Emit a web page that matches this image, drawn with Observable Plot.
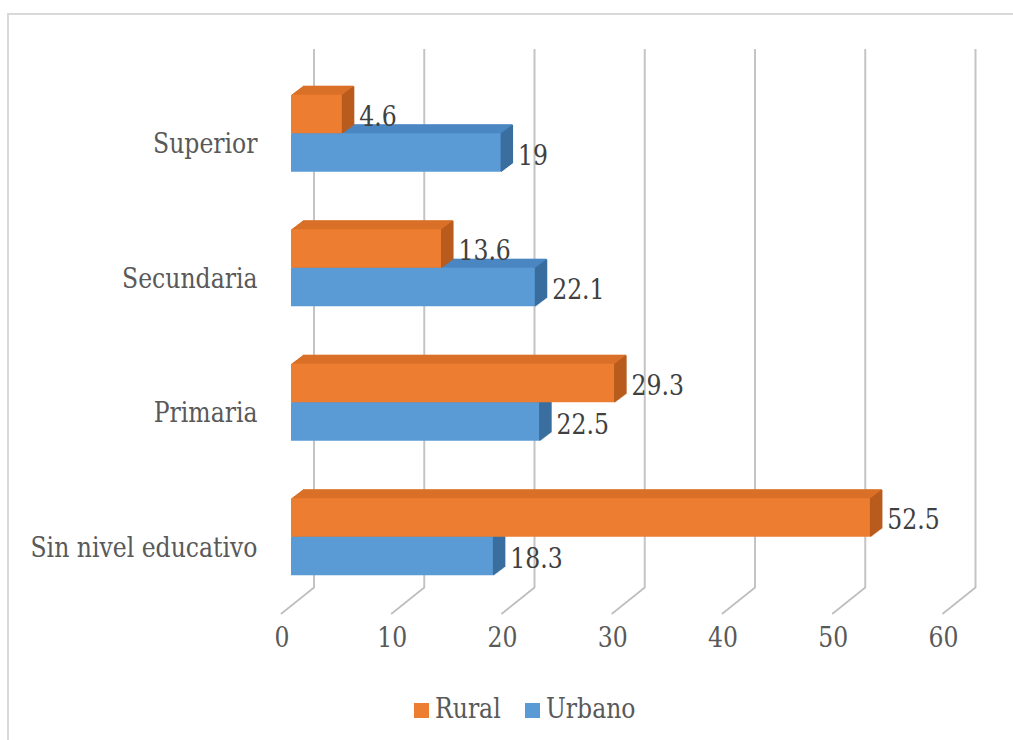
<!DOCTYPE html>
<html><head><meta charset="utf-8">
<script src="https://cdn.jsdelivr.net/npm/d3@7"></script>
<script src="https://cdn.jsdelivr.net/npm/@observablehq/plot@0.6"></script>
<style>
body{margin:0;background:#fff;width:1013px;height:740px;overflow:hidden;position:relative;font-family:"DejaVu Serif",serif;}
#frame{position:absolute;left:7px;top:13px;width:1030px;height:760px;border:2px solid #d9d9d9;box-sizing:border-box;}
#chart{position:absolute;left:0;top:0;}
#legend{position:absolute;left:0;top:0;width:1013px;height:740px;pointer-events:none;}
.sw{position:absolute;width:15px;height:15px;top:703px;}
.lt{position:absolute;top:691px;font-size:28px;line-height:36px;color:#595959;white-space:nowrap;transform-origin:0 50%;}
</style></head><body>
<div id="frame"></div>
<div id="chart"></div>
<div id="legend"></div>
<script>
// ---- data ----
const categories = ["Superior", "Secundaria", "Primaria", "Sin nivel educativo"];
const rural = [4.6, 13.6, 29.3, 52.5];
const urbano = [19, 22.1, 22.5, 18.3];
const xTicks = [0, 10, 20, 30, 40, 50, 60];
const seriesNames = ["Rural", "Urbano"];

const palette = {
  Rural:  {front: "#ED7D31", top: "#DA7028", side: "#B85C1D"},
  Urbano: {front: "#5B9BD5", top: "#4A87C2", side: "#3A6E9F"}
};

const FONT = "'DejaVu Serif', serif";
const FS = 28;
// horizontal condensing so the wide serif matches the original Times-like widths
const ctx = document.createElement("canvas").getContext("2d");
ctx.font = `${FS}px ${FONT}`;
const measure = s => ctx.measureText(s).width;
const squeeze = 227 / measure("Sin nivel educativo");

const ruralData = categories.map((c, i) => ({cat: c, value: rural[i], series: "Rural"}));
const urbanoData = categories.map((c, i) => ({cat: c, value: urbano[i], series: "Urbano"}));

// ---- layout ----
const W = 1013, H = 690, mT = 66, mB = 86, mL = 291, mR = 60.5;
const frameH = H - mT - mB;
const padInner = 0.4275;
const step = frameH / categories.length;
const bw = step * (1 - padInner);
const half = bw / 2;
const depth = 12, slope = 0.755;
const wallDX = 22.5, wallDY = -17;
const floorDX = -10, floorDY = 9;

const marks = [];
// back wall gridlines
marks.push(Plot.ruleX(xTicks, {x: d => d, dx: wallDX, dy: wallDY, stroke: "#c4c4c4", strokeWidth: 2}));
// floor lines
const N = 46;
for (let s = 0; s <= N; s++) {
  const t = s / N;
  marks.push(Plot.dot(xTicks, {
    x: d => d, frameAnchor: "bottom", r: 0.9, fill: "#bdbdbd", stroke: "none",
    dx: wallDX + (floorDX - wallDX) * t, dy: wallDY + (floorDY - wallDY) * t
  }));
}

function extrude(data, name, insets) {
  const c = palette[name];
  for (let k = 1; k <= depth; k++) {
    marks.push(Plot.barX(data, {x: "value", y: "cat", ...insets, dx: k, dy: -slope * k, fill: c.top}));
  }
  for (let k = 0; k <= depth - 1; k++) {
    marks.push(Plot.barX(data, {x1: "value", x2: "value", y: "cat", ...insets, insetRight: -1.6, dx: k, dy: -slope * k, fill: c.side}));
  }
}
const ruralInsets = {insetBottom: half};
const urbanoInsets = {insetTop: half};
extrude(urbanoData, "Urbano", urbanoInsets);
extrude(ruralData, "Rural", ruralInsets);
marks.push(Plot.barX(urbanoData, {x: "value", y: "cat", ...urbanoInsets, fill: palette.Urbano.front}));
marks.push(Plot.barX(ruralData, {x: "value", y: "cat", ...ruralInsets, fill: palette.Rural.front}));

// data labels
marks.push(Plot.text(ruralData, {x: "value", y: "cat", text: d => String(d.value), dx: 17, dy: -17, textAnchor: "start", fontSize: FS, fill: "#404040"}));
marks.push(Plot.text(urbanoData, {x: "value", y: "cat", text: d => String(d.value), dx: 17, dy: 22, textAnchor: "start", fontSize: FS, fill: "#404040"}));
// category labels
marks.push(Plot.text(categories, {y: d => d, text: d => d, frameAnchor: "left", dx: -34, dy: 10.5, textAnchor: "end", fontSize: FS, fill: "#595959"}));
// x tick labels
marks.push(Plot.text(xTicks, {x: d => d, text: d => String(d), frameAnchor: "bottom", dx: -9.5, dy: 42.7, textAnchor: "middle", fontSize: FS, fill: "#595959"}));

const chart = Plot.plot({
  width: W, height: H,
  marginTop: mT, marginBottom: mB, marginLeft: mL, marginRight: mR,
  x: {domain: [0, 60], axis: null},
  y: {type: "band", domain: categories, paddingInner: padInner, paddingOuter: padInner / 2, round: false, axis: null},
  style: {fontFamily: FONT, background: "transparent", overflow: "visible"},
  marks
});
d3.select(chart).selectAll("text").each(function() {
  const s = this.textContent;
  if (s) { this.setAttribute("textLength", (measure(s) * squeeze).toFixed(2)); this.setAttribute("lengthAdjust", "spacingAndGlyphs"); }
});
document.getElementById("chart").appendChild(chart);

// legend
const legend = document.getElementById("legend");
const legendX = [414, 525];
seriesNames.forEach((n, i) => {
  const sw = document.createElement("div"); sw.className = "sw";
  sw.style.left = legendX[i] + "px"; sw.style.background = palette[n].front;
  const tx = document.createElement("div"); tx.className = "lt";
  tx.style.left = (legendX[i] + 21) + "px"; tx.style.transform = `scaleX(${squeeze})`;
  tx.textContent = n;
  legend.appendChild(sw); legend.appendChild(tx);
});
</script>
</body></html>
